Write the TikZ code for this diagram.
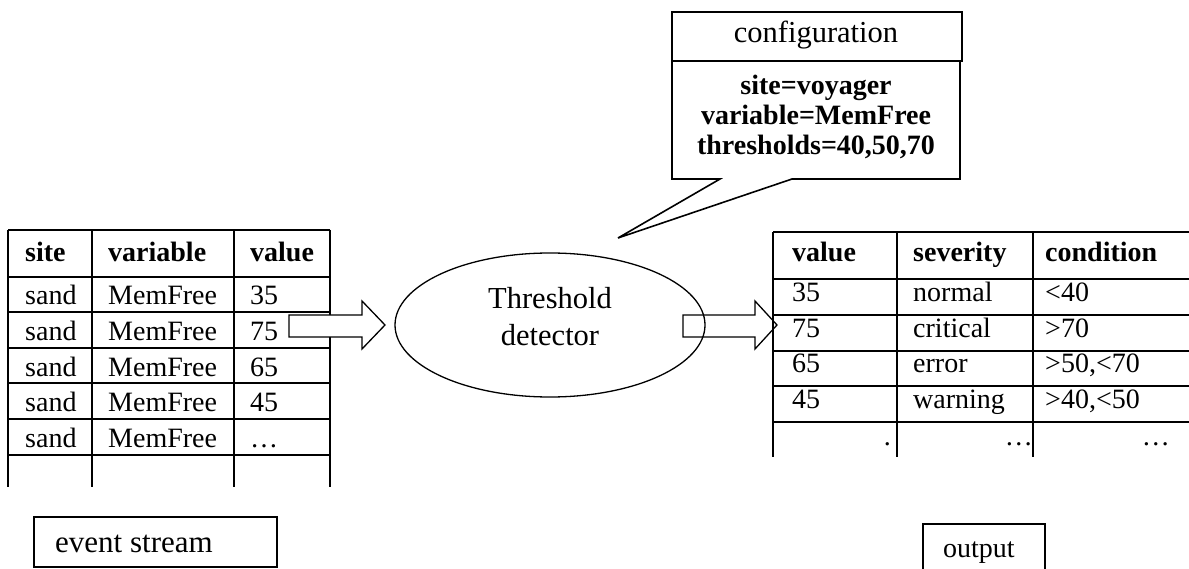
\documentclass[tikz,border=0pt]{standalone}
\usepackage{fontspec}
\setmainfont{Liberation Serif}
\usetikzlibrary{shapes.geometric}
\begin{document}
\begin{tikzpicture}[x=1pt,y=-1pt,
  tbl/.style={line width=2.1pt},
  boxline/.style={line width=1.6pt},
  thinline/.style={line width=1.3pt},
  cell/.style={anchor=base west,inner sep=0pt,font=\fontsize{28}{32}\selectfont},
  hcell/.style={anchor=base west,inner sep=0pt,font=\fontsize{28}{32}\selectfont\bfseries},
  blockarrow/.style={thinline,fill=white}]
\useasboundingbox (0,0) rectangle (1189,569);

% ---------- left table (event stream) ----------
\foreach \y in {230,277,312,348,383,419,455}
  \draw[tbl] (8,\y) -- (330,\y);
\foreach \x in {8,92,234,330}
  \draw[tbl] (\x,230) -- (\x,487);
\node[hcell] (lh1) at (25,262) {site};
\node[hcell] (lh2) at (108,262) {variable};
\node[hcell] (lh3) at (250,262) {value};
\foreach \v [count=\i] in {35,75,65,45,\dots}{
  \pgfmathsetmacro{\yy}{305+35.5*(\i-1)}
  \node[cell] (ls\i) at (25,\yy) {sand};
  \node[cell] (lv\i) at (108,\yy) {MemFree};
  \node[cell] (lx\i) at (250,\yy) {\v};
}

% ---------- block arrow 1 ----------
\coordinate (a1s) at (289,326);
\draw[blockarrow] (a1s) ++(0,-11) -- (362,315) -- (362,301) -- (385,325)
  -- (362,349) -- (362,337) -- (289,337) -- cycle;

% ---------- detector ----------
\node[draw,thinline,ellipse,minimum width=310pt,minimum height=144pt,inner sep=0pt] (det) at (550,325) {};
\node[anchor=base,inner sep=0pt,font=\fontsize{30.5}{36}\selectfont] (det1) at (550,309) {Threshold};
\node[anchor=base,inner sep=0pt,font=\fontsize{30.5}{36}\selectfont] (det2) at (550,345) {detector};

% ---------- block arrow 2 ----------
\draw[thinline] (683,315) -- (755,315) -- (755,301) -- (777,325)
  -- (755,349) -- (755,337) -- (683,337) -- cycle;

% ---------- right table (output) ----------
\foreach \y in {232,279,315,351,386,422}
  \draw[tbl] (773,\y) -- (1189,\y);
\foreach \x in {773,897,1033}
  \draw[tbl] (\x,232) -- (\x,457);
\node[hcell] (rh1) at (792,262) {value};
\node[hcell] (rh2) at (913,262) {severity};
\node[hcell] (rh3) at (1045,262) {condition};
\foreach \v/\s/\c [count=\i] in {35/normal/{<40},75/critical/{>70},65/error/{>50,<70},45/warning/{>40,<50}}{
  \pgfmathsetmacro{\yy}{302+35.5*(\i-1)}
  \node[cell] (rv\i) at (792,\yy) {\v};
  \node[cell] (rs\i) at (913,\yy) {\s};
  \node[cell] (rc\i) at (1045,\yy) {\c};
}
\node[anchor=base east,inner sep=0pt,font=\fontsize{28}{32}\selectfont] (rd1) at (891,445) {.};
\node[anchor=base east,inner sep=0pt,font=\fontsize{28}{32}\selectfont] (rd2) at (1033,445) {\dots};
\node[anchor=base east,inner sep=0pt,font=\fontsize{28}{32}\selectfont] (rd3) at (1170,445) {\dots};

% ---------- configuration callout ----------
\draw[boxline] (672,12) rectangle (962,61);
\draw[boxline,line join=miter] (672,61) -- (672,179) -- (720,179) -- (618,238)
  -- (792,179) -- (960,179) -- (960,61);
\node[anchor=base,inner sep=0pt,font=\fontsize{30.5}{36}\selectfont] (cfgt) at (816,43) {configuration};
\node[anchor=base,inner sep=0pt,font=\fontsize{28}{32}\selectfont\bfseries] (cfg1) at (816,95) {site=voyager};
\node[anchor=base,inner sep=0pt,font=\fontsize{28}{32}\selectfont\bfseries] (cfg2) at (816,125) {variable=MemFree};
\node[anchor=base,inner sep=0pt,font=\fontsize{28}{32}\selectfont\bfseries] (cfg3) at (816,155) {thresholds=40,50,70};

% ---------- captions ----------
\draw[boxline] (34,517) rectangle (277,567);
\node[anchor=base west,inner sep=0pt,font=\fontsize{31}{36}\selectfont] (ev) at (55,552) {event stream};
\draw[boxline] (923,575) -- (923,524) -- (1045,524) -- (1045,575);
\node[anchor=base west,inner sep=0pt,font=\fontsize{28}{32}\selectfont] (out) at (943,557) {output};
\end{tikzpicture}
\end{document}
